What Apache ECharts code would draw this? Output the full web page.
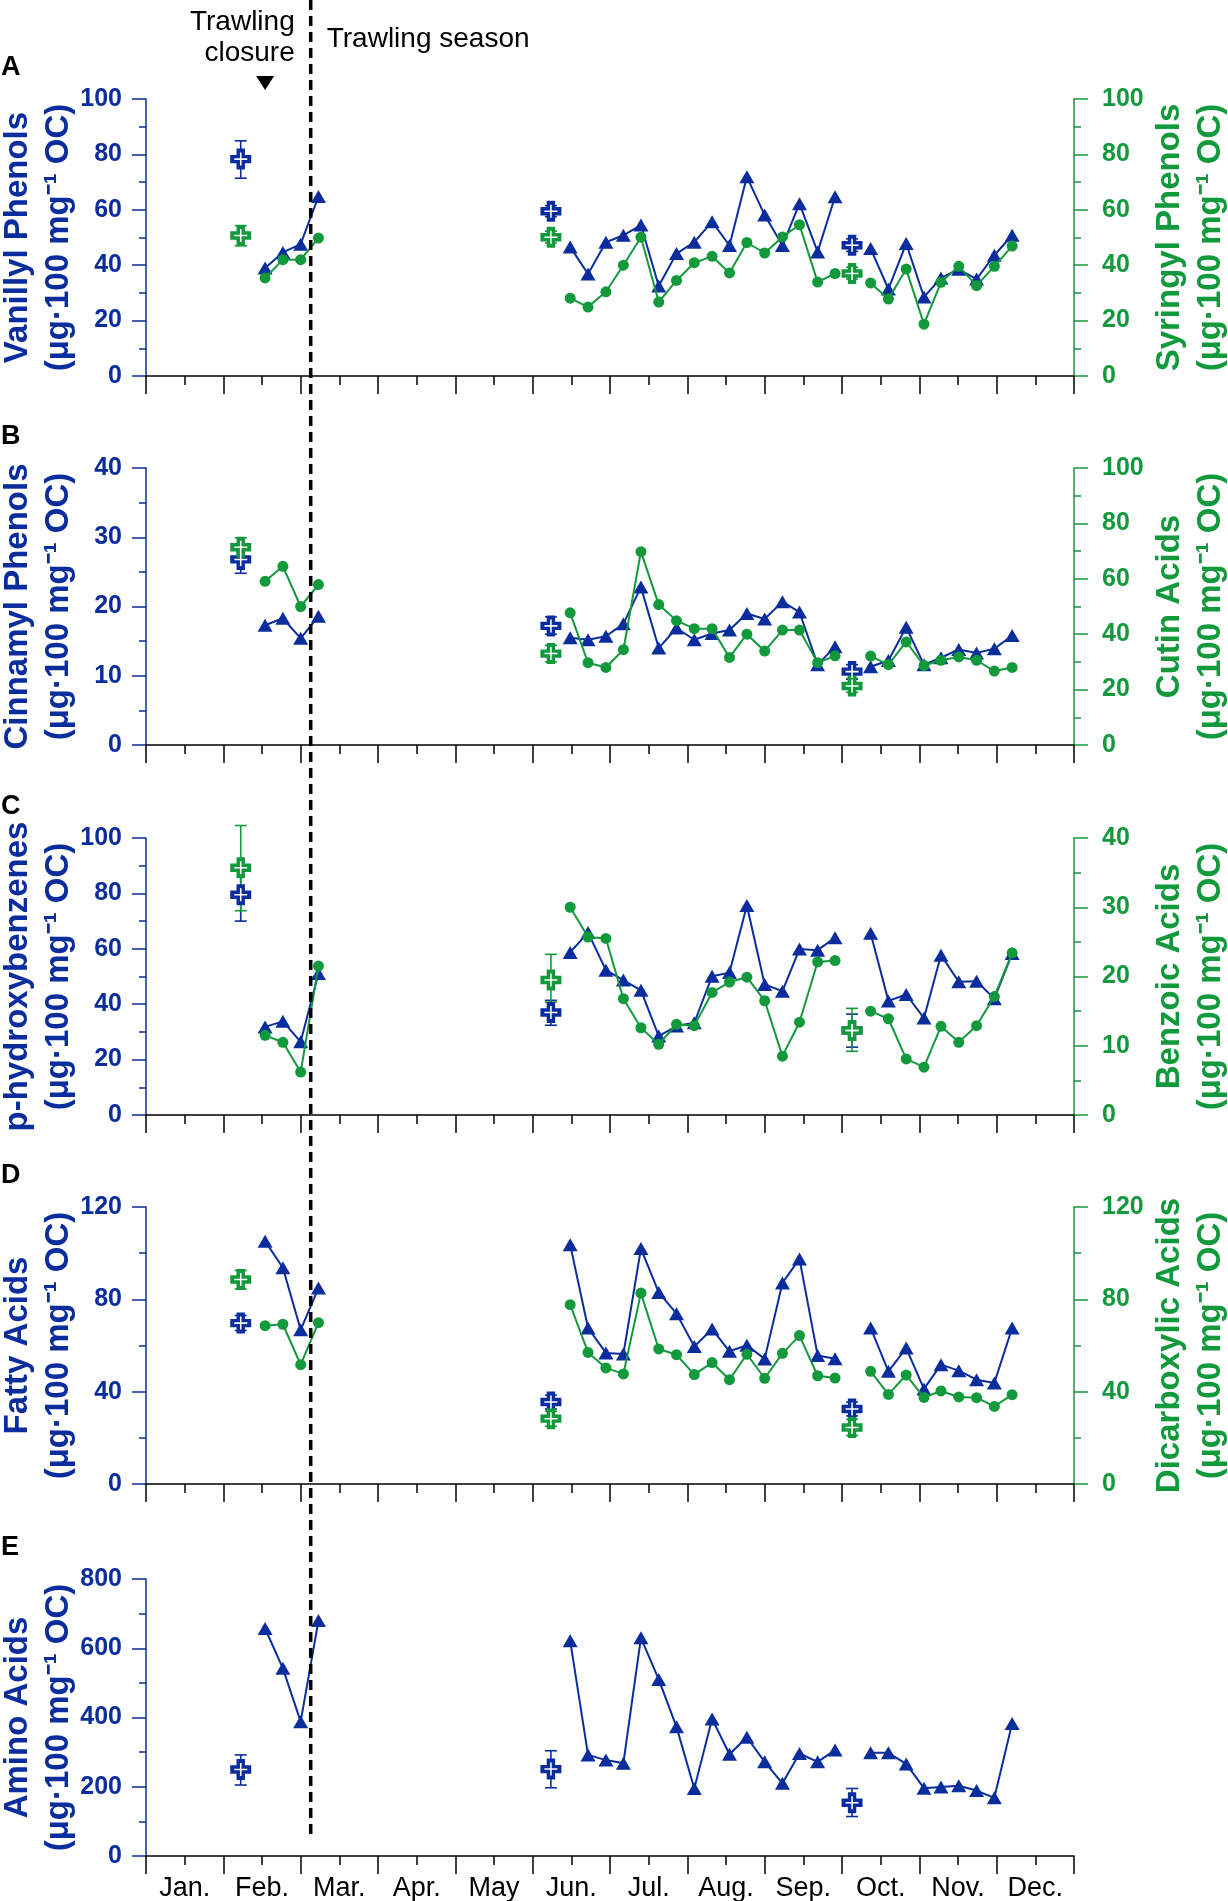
<!DOCTYPE html>
<html>
<head>
<meta charset="utf-8">
<title>Lignin and lipid biomarkers through the year</title>
<script src="https://cdn.jsdelivr.net/npm/echarts@6/dist/echarts.min.js"></script>
<style>
    html, body { margin: 0; padding: 0; background: #fff; }
    #chart { width: 1228px; height: 1901px; }
</style>
</head>
<body>
<div id="chart"></div>
<script>
// sampling dates in months since Jan 1 (null = break in the series)
const sampleMonths = [
    1.54, 1.77, 2.0, 2.23, null,
    5.485, 5.716, 5.947, 6.173, 6.4, 6.63, 6.86, 7.09, 7.32, 7.545, 7.77, 8.0, 8.23, 8.45, 8.685, 8.91, null,
    9.37, 9.6, 9.83, 10.06, 10.28, 10.51, 10.74, 10.97, 11.2,
];
const crossMonths = [1.225, 5.236, 9.13];
const monthLabels = ["Jan.", "Feb.", "Mar.", "Apr.", "May", "Jun.", "Jul.", "Aug.", "Sep.", "Oct.", "Nov.", "Dec."];
const closureMark = 1.54;
const seasonStart = 2.13;

// A
const vanillyl = [39, 44.6, 47.6, 64.8, null, 46.6, 36.8, 48.3, 50.8, 54.5, 32.5, 44.2, 48.3, 55.7, 47.1, 71.9, 58.1, 47.1, 62.2, 44.8, 64.7, null, 46, 31.4, 47.8, 28.5, 35.4, 38.5, 35, 43.6, 50.8];
const syringyl = [35.4, 42, 42, 49.8, null, 28.1, 24.9, 30.4, 40, 50.1, 26.7, 34.5, 40.9, 43.2, 37.2, 48.2, 44.4, 50.2, 54.6, 33.9, 37, null, 33.6, 27.8, 38.6, 18.7, 33.8, 39.6, 32.6, 39.6, 46.9];
const vanillylCross = [78.3, 59.5, 47.2];
const vanillylErr = [[71.4, 84.9], [57.5, 61.5], [45, 49.5]];
const syringylCross = [50.7, 50.1, 37];
const syringylErr = [[47, 54.3], [48, 52.3], [35, 39.3]];

// B
const cinnamyl = [17.3, 18.3, 15.4, 18.6, null, 15.5, 15.2, 15.7, 17.5, 22.8, 14, 16.9, 15.2, 16.1, 16.6, 19, 18.2, 20.7, 19.2, 11.6, 14.2, null, 11.3, 12.2, 17, 11.6, 12.6, 13.8, 13.3, 13.9, 15.8];
const cutin = [59.1, 64.5, 50, 57.9, null, 47.7, 29.7, 28, 34.4, 69.8, 50.7, 44.9, 42, 42, 31.6, 40, 33.9, 41.5, 41.5, 29.7, 32.2, null, 32.1, 29, 37.2, 28.7, 30.6, 31.8, 30.6, 26.7, 28];
const cinnamylCross = [26.8, 17.2, 10.6];
const cinnamylErr = [[24.8, 28.7], [16, 18.5], [9.5, 11.6]];
const cutinCross = [71.4, 33, 21.3];
const cutinErr = [[68, 74.8], [30, 36], [19, 24]];

// C
const hydroxy = [31.8, 33.8, 26.4, 51.1, null, 58.7, 65.9, 52.3, 48.7, 45, 28.5, 32.1, 33.3, 50.1, 51.4, 75.6, 47.1, 44.7, 59.9, 59.5, 64, null, 65.6, 41.2, 43.5, 35, 57.7, 48.1, 48.3, 42, 58.3];
const benzoic = [11.5, 10.5, 6.2, 21.5, null, 30, 25.7, 25.5, 16.8, 12.6, 10.2, 13.1, 12.9, 17.7, 19.2, 19.9, 16.5, 8.5, 13.4, 22.1, 22.3, null, 15, 13.9, 8.1, 6.9, 12.8, 10.5, 12.9, 17.1, 23.4];
const hydroxyCross = [79.5, 37, 30.5];
const hydroxyErr = [[70, 88], [32.4, 41.4], [24.5, 36.4]];
const benzoicCross = [35.7, 19.5, 12.2];
const benzoicErr = [[29.5, 41.8], [16.3, 23.2], [9.2, 15.4]];

// D
const fatty = [105.2, 93.7, 66.8, 84.9, null, 103.7, 67.6, 56.8, 56.3, 102, 83, 73.8, 59.6, 67.1, 57.5, 60.1, 54.2, 87.1, 97.5, 55.7, 54.3, null, 67.6, 48.8, 58.9, 41.2, 51.7, 49.1, 45.2, 43.8, 67.6];
const dicarboxylic = [68.6, 69.2, 51.7, 69.9, null, 77.7, 57, 50.3, 47.7, 82.7, 58.5, 56, 47.4, 52.6, 45.2, 56.2, 45.8, 56.6, 64.3, 46.9, 45.9, null, 48.8, 38.8, 47.2, 37.5, 40.3, 37.7, 37.4, 33.6, 38.7];
const fattyCross = [69.7, 35.5, 32.5];
const fattyErr = [[66.5, 73], [32.5, 38.5], [29.5, 35.5]];
const dicarboxylicCross = [88.6, 28.3, 24.5];
const dicarboxylicErr = [[84.5, 92.5], [25, 31.5], [21, 28]];

// E
const amino = [657, 542, 388, 680, null, 622, 292, 277, 268, 630, 510, 373, 195, 396, 294, 343, 272, 210, 296, 272, 306, null, 298, 298, 266, 196, 199, 203, 189, 168, 383];
const aminoCross = [250, 251, 154];
const aminoErr = [[205, 292], [197, 304], [114, 195]];

const BLUE = "#0a2d9d";
const GREEN = "#12993c";
const FONT = "Liberation Sans";
const WIDTH = 1228;
const GRID_LEFT = 146;
const GRID_RIGHT = 154;
const PANEL_H = 277;
const panelTops = [99, 468, 838, 1207, 1579];
const UNIT = "(\u03bcg\u00b7100 mg\u207b\u00b9 OC)";

const panels = [
    { letter: "A", blue: vanillyl, green: syringyl, blueCross: vanillylCross, blueErr: vanillylErr, greenCross: syringylCross, greenErr: syringylErr,
      left: { name: "Vanillyl Phenols", max: 100, interval: 20 }, right: { name: "Syringyl Phenols", max: 100, interval: 20 } },
    { letter: "B", blue: cinnamyl, green: cutin, blueCross: cinnamylCross, blueErr: cinnamylErr, greenCross: cutinCross, greenErr: cutinErr,
      left: { name: "Cinnamyl Phenols", max: 40, interval: 10 }, right: { name: "Cutin Acids", max: 100, interval: 20 } },
    { letter: "C", blue: hydroxy, green: benzoic, blueCross: hydroxyCross, blueErr: hydroxyErr, greenCross: benzoicCross, greenErr: benzoicErr,
      left: { name: "p-hydroxybenzenes", max: 100, interval: 20 }, right: { name: "Benzoic Acids", max: 40, interval: 10 } },
    { letter: "D", blue: fatty, green: dicarboxylic, blueCross: fattyCross, blueErr: fattyErr, greenCross: dicarboxylicCross, greenErr: dicarboxylicErr,
      left: { name: "Fatty Acids", max: 120, interval: 40 }, right: { name: "Dicarboxylic Acids", max: 120, interval: 40 } },
    { letter: "E", blue: amino, blueCross: aminoCross, blueErr: aminoErr,
      left: { name: "Amino Acids", max: 800, interval: 200 } },
];

const CROSS_OUTER = "path://M30,0H70V30H100V70H70V100H30V70H0V30H30Z";
const CROSS_INNER = "path://M44,0H56V44H100V56H56V100H44V56H0V44H44Z";

const toLine = (values) => sampleMonths.map((m, i) => (m === null ? ["-", "-"] : [m, values[i]]));

const yAxisOf = (i, side, cfg, color) => ({
    gridIndex: i,
    type: "value",
    position: side,
    min: 0,
    max: cfg.max,
    interval: cfg.interval,
    axisLine: { show: true, lineStyle: { color: color, width: 1.5 } },
    axisTick: { show: true, length: 14, lineStyle: { color: color, width: 1.5 } },
    minorTick: { show: true, splitNumber: 2, length: 7, lineStyle: { color: color, width: 1.5 } },
    axisLabel: { color: color, fontFamily: FONT, fontSize: 25, fontWeight: "bold", margin: side === "left" ? 24 : 28 },
    splitLine: { show: false },
});

// axis title, rotated to read bottom-to-top, centred on the panel
const axisTitle = (name, color, x, y) => ({
    type: "text", silent: true, x: x, y: y, rotation: Math.PI / 2,
    style: {
        text: name + "\n" + UNIT, fill: color, fontFamily: FONT, fontSize: 33, fontWeight: "bold",
        lineHeight: 41, align: "center", verticalAlign: "middle",
    },
});

const errorBars = (errs, color, xi, yi) => ({
    type: "custom",
    xAxisIndex: xi,
    yAxisIndex: yi,
    silent: true,
    z: 2,
    data: crossMonths.map((m, i) => [m, errs[i][0], errs[i][1]]),
    encode: { x: 0, y: [1, 2] },
    renderItem: (params, api) => {
        const lo = api.coord([api.value(0), api.value(1)]);
        const hi = api.coord([api.value(0), api.value(2)]);
        const style = { stroke: color, lineWidth: 1.6 };
        return {
            type: "group",
            children: [
                { type: "line", shape: { x1: lo[0], y1: lo[1], x2: hi[0], y2: hi[1] }, style: style },
                { type: "line", shape: { x1: lo[0] - 6, y1: lo[1], x2: lo[0] + 6, y2: lo[1] }, style: style },
                { type: "line", shape: { x1: hi[0] - 6, y1: hi[1], x2: hi[0] + 6, y2: hi[1] }, style: style },
            ],
        };
    },
});

const crossMarks = (values, color, xi, yi) => [
    {
        type: "scatter", xAxisIndex: xi, yAxisIndex: yi, silent: true, z: 3,
        symbol: CROSS_OUTER, symbolSize: 21,
        itemStyle: { color: color, opacity: 1 },
        data: crossMonths.map((m, i) => [m, values[i]]),
    },
    {
        type: "scatter", xAxisIndex: xi, yAxisIndex: yi, silent: true, z: 4,
        symbol: CROSS_INNER, symbolSize: 13,
        itemStyle: { color: "#fff", opacity: 1 },
        data: crossMonths.map((m, i) => [m, values[i]]),
    },
];

const lineSeries = (values, color, symbol, size, xi, yi, z) => ({
    type: "line", xAxisIndex: xi, yAxisIndex: yi, silent: true, z: z,
    symbol: symbol, symbolSize: size, showSymbol: true, connectNulls: false,
    itemStyle: { color: color, opacity: 1 },
    lineStyle: { color: color, width: 2 },
    data: toLine(values),
});

const buildOption = () => {
    const grid = [], xAxis = [], yAxis = [], series = [];
    panels.forEach((p, i) => {
        grid.push({ left: GRID_LEFT, right: GRID_RIGHT, top: panelTops[i], height: PANEL_H, containLabel: false, outerBoundsMode: "none" });
        xAxis.push({
            gridIndex: i, type: "value", position: "bottom", min: 0, max: 12, interval: 1,
            axisLine: { lineStyle: { color: "#000", width: 1.5 } },
            axisTick: { show: true, length: 18, lineStyle: { color: "#000", width: 1.5 } },
            minorTick: { show: true, splitNumber: 2, length: 9, lineStyle: { color: "#000", width: 1.5 } },
            axisLabel: { show: false },
            splitLine: { show: false },
        });
        const li = yAxis.length;
        yAxis.push(yAxisOf(i, "left", p.left, BLUE));
        let ri = li;
        if (p.right) {
            ri = yAxis.length;
            yAxis.push(yAxisOf(i, "right", p.right, GREEN));
        }
        series.push(errorBars(p.blueErr, BLUE, i, li));
        series.push(...crossMarks(p.blueCross, BLUE, i, li));
        if (p.green) {
            series.push(errorBars(p.greenErr, GREEN, i, ri));
            series.push(...crossMarks(p.greenCross, GREEN, i, ri));
        }
        series.push(lineSeries(p.blue, BLUE, "triangle", [15, 13], i, li, 5));
        if (p.green) {
            series.push(lineSeries(p.green, GREEN, "circle", 11, i, ri, 6));
        }
    });
    // month names centred between the long ticks of the bottom panel
    xAxis.push({
        gridIndex: 4, type: "category", position: "bottom", data: monthLabels, boundaryGap: true,
        axisLine: { show: false }, axisTick: { show: false },
        axisLabel: { color: "#000", fontFamily: FONT, fontSize: 27, margin: 19 },
    });
    return { animation: false, backgroundColor: "#fff", grid, xAxis, yAxis, series };
};

const init = () => {
    const chart = echarts.init(document.querySelector("#chart"), null, { renderer: "canvas" });
    chart.setOption(buildOption());
    const lineX = chart.convertToPixel({ xAxisIndex: 0 }, seasonStart);
    const markX = chart.convertToPixel({ xAxisIndex: 0 }, closureMark);
    const graphic = [
        {
            type: "line", silent: true, z: 10,
            shape: { x1: lineX, y1: 0, x2: lineX, y2: panelTops[4] + PANEL_H - 16 },
            style: { stroke: "#000", lineWidth: 3.5, lineDash: [10, 6] },
        },
        {
            type: "polygon", silent: true,
            shape: { points: [[markX - 9, 76], [markX + 9, 76], [markX, 90]] },
            style: { fill: "#000" },
        },
        {
            type: "text", silent: true, x: lineX - 16, y: 7,
            style: { text: "Trawling\nclosure", fontFamily: FONT, fontSize: 28, lineHeight: 31, align: "right", verticalAlign: "top", fill: "#000" },
        },
        {
            type: "text", silent: true, x: lineX + 16, y: 39,
            style: { text: "Trawling season", fontFamily: FONT, fontSize: 28, align: "left", verticalAlign: "middle", fill: "#000" },
        },
    ];
    panels.forEach((p, i) => {
        const midY = panelTops[i] + PANEL_H / 2;
        graphic.push({
            type: "text", silent: true, x: 1, y: panelTops[i] - 31,
            style: { text: p.letter, fontFamily: FONT, fontSize: 27, fontWeight: "bold", align: "left", verticalAlign: "middle", fill: "#000" },
        });
        graphic.push(axisTitle(p.left.name, BLUE, GRID_LEFT - 108, midY));
        if (p.right) {
            graphic.push(axisTitle(p.right.name, GREEN, WIDTH - GRID_RIGHT + 116, midY));
        }
    });
    chart.setOption({ graphic: graphic });
};
window.addEventListener("load", init);
</script>
</body>
</html>
